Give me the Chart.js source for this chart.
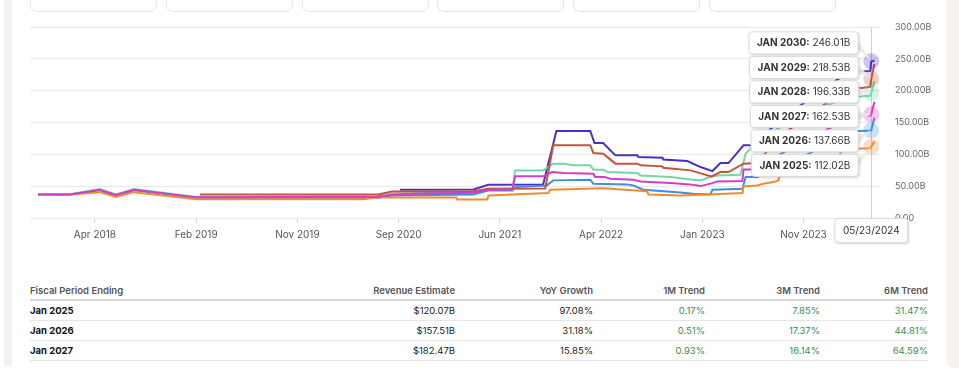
<!DOCTYPE html>
<html>
<head>
<meta charset="utf-8">
<script src="https://cdn.jsdelivr.net/npm/chart.js@4.4.1/dist/chart.umd.min.js"></script>
<style>
  body { margin: 0; width: 959px; height: 380px; overflow: hidden; position: relative; background: #fff; font-family: Inter, "Liberation Sans", sans-serif; }
  .strip-l { position: absolute; left: 4px; top: 0; width: 8px; height: 367px; background: #f4f1ee; }
  .strip-r { position: absolute; left: 947px; top: 0; width: 12px; height: 368px; background: #f4f1ee; border-bottom-left-radius: 6px; }
  .btn { position: absolute; top: -20px; height: 32px; width: 127px; border: 1px solid #e6e6e6; border-radius: 7px; box-sizing: border-box; }
  #wrap { position: absolute; left: 0; top: 0; width: 945px; height: 250px; }
  #est { position: absolute; left: 30px; top: 281px; width: 898px; border-collapse: collapse; table-layout: fixed; font-size: 9.5px; }
  #est th { height: 18px; color: #555; font-weight: 600; text-align: right; padding: 0; border-bottom: 2px solid #d6d6d6; }
  #est td { height: 19px; text-align: right; padding: 0; color: #222; border-bottom: 1px solid #e6e6e6; }
  #est th.l, #est td.l { text-align: left; }
  #est td.l { font-weight: 700; color: #111; }
  #est td.g { color: #3b8c50; }
</style>
</head>
<body>
<div class="strip-l"></div>
<div class="strip-r"></div>
<div class="btn" style="left:30px"></div>
<div class="btn" style="left:166px"></div>
<div class="btn" style="left:302px"></div>
<div class="btn" style="left:437px"></div>
<div class="btn" style="left:573px"></div>
<div class="btn" style="left:709px"></div>
<div id="wrap"><canvas id="revChart" width="945" height="250"></canvas></div>
<table id="est">
  <colgroup><col style="width:200px"><col style="width:225px"><col style="width:138px"><col style="width:112px"><col style="width:115px"><col style="width:108px"></colgroup>
  <thead><tr><th class="l">Fiscal Period Ending</th><th>Revenue Estimate</th><th>YoY Growth</th><th>1M Trend</th><th>3M Trend</th><th>6M Trend</th></tr></thead>
  <tbody id="estBody"></tbody>
</table>
<script>
// revenue estimate history, [date, billions]
const est2025 = [['2017-11-09',37.0],['2018-02-08',37.0],['2018-05-05',40.6],['2018-06-20',33.2],['2018-08-11',40.6],['2019-02-07',29.6],['2020-05-28',29.6],['2020-07-10',32.3],['2021-02-19',32.3],['2021-02-22',29.1],['2021-05-19',29.1],['2021-05-22',35.4],['2021-11-10',39.1],['2021-11-15',44.4],['2022-04-16',46.9],['2022-08-19',42.2],['2022-08-24',37.0],['2022-11-23',35.4],['2023-02-09',37.0],['2023-05-20',39.1],['2023-05-23',49.6],['2023-07-02',51.2],['2023-07-19',53.9],['2023-08-17',56.4],['2023-08-31',59.1],['2023-09-05',70.0],['2023-11-20',74.0],['2023-11-24',86.0],['2024-02-22',93.0],['2024-02-26',106.0],['2024-04-16',109.0],['2024-05-20',109.5],['2024-05-23',112.02],['2024-06-01',120.07]];
const est2026 = [['2017-11-09',37.0],['2018-02-08',37.0],['2018-05-05',43.5],['2018-06-20',35.0],['2018-08-11',43.5],['2019-02-07',32.0],['2020-07-10',32.0],['2020-08-19',35.5],['2021-04-09',37.0],['2021-05-22',43.3],['2021-07-30',43.3],['2021-08-07',48.5],['2021-11-05',51.2],['2021-11-24',59.1],['2022-03-10',60.2],['2022-03-19',53.9],['2022-06-24',52.8],['2022-07-11',51.2],['2022-08-09',44.4],['2022-11-15',40.6],['2022-12-30',38.1],['2023-02-17',37.0],['2023-02-23',44.4],['2023-05-20',46.0],['2023-05-29',64.3],['2023-07-02',64.3],['2023-08-28',82.0],['2023-11-22',100.0],['2024-02-23',126.0],['2024-04-16',136.7],['2024-05-20',136.9],['2024-05-23',137.66],['2024-06-01',157.51]];
const est2027 = [['2017-11-09',37.0],['2018-02-08',37.0],['2018-05-05',44.4],['2018-06-20',36.2],['2018-08-11',44.4],['2019-02-07',32.4],['2020-07-10',33.2],['2020-08-19',36.5],['2020-11-13',38.5],['2021-04-09',39.5],['2021-05-22',44.4],['2021-07-30',45.0],['2021-08-07',65.4],['2021-10-26',65.4],['2021-11-20',72.1],['2021-12-23',70.6],['2022-03-19',69.6],['2022-03-24',64.3],['2022-04-20',64.3],['2022-05-06',61.7],['2022-07-11',60.2],['2022-08-01',57.5],['2022-10-26',54.8],['2022-12-20',52.8],['2023-01-20',50.1],['2023-02-23',54.8],['2023-03-09',57.5],['2023-05-20',58.0],['2023-05-23',76.0],['2023-06-21',76.0],['2023-08-28',98.0],['2023-11-22',122.0],['2024-02-23',150.0],['2024-04-16',160.5],['2024-05-20',161.0],['2024-05-23',162.53],['2024-06-01',182.47]];
const est2028 = [['2017-11-09',37.0],['2018-02-08',37.5],['2018-05-05',45.5],['2018-06-20',37.0],['2018-08-11',45.5],['2019-02-07',33.0],['2020-07-10',34.0],['2020-08-19',38.5],['2021-04-09',40.0],['2021-05-22',46.0],['2021-07-30',46.0],['2021-08-07',74.8],['2021-10-26',74.8],['2021-11-24',85.4],['2021-12-23',85.4],['2022-01-20',82.7],['2022-03-10',82.7],['2022-03-19',75.9],['2022-04-16',75.9],['2022-04-28',72.1],['2022-07-23',70.6],['2022-08-01',66.9],['2022-10-26',64.3],['2022-12-22',60.6],['2023-01-20',59.1],['2023-02-17',64.3],['2023-03-09',66.9],['2023-05-14',68.0],['2023-05-29',101.1],['2023-06-12',109.0],['2023-06-21',116.9],['2023-08-28',140.0],['2023-11-22',165.0],['2024-02-23',185.0],['2024-04-16',191.0],['2024-05-20',192.0],['2024-05-23',196.33],['2024-06-01',215.0]];
const est2029 = [['2019-02-16',37.0],['2020-07-10',37.0],['2020-08-19',41.5],['2021-04-09',42.0],['2021-05-22',46.0],['2021-11-01',46.5],['2021-11-24',114.2],['2022-03-10',114.2],['2022-03-19',102.0],['2022-04-16',101.0],['2022-05-21',85.4],['2022-07-23',85.4],['2022-08-01',82.7],['2022-10-03',81.1],['2022-10-05',79.0],['2022-12-22',74.8],['2023-02-20',65.4],['2023-03-18',72.1],['2023-04-10',72.1],['2023-05-23',85.4],['2023-07-02',86.3],['2023-08-28',125.0],['2023-11-22',160.0],['2024-02-23',195.0],['2024-04-16',203.5],['2024-05-20',206.0],['2024-05-23',218.53],['2024-06-01',242.0]];
const est2030 = [['2020-09-11',44.4],['2021-04-09',44.9],['2021-05-22',52.3],['2021-10-26',52.8],['2021-12-03',136.7],['2022-03-10',136.7],['2022-03-22',117.8],['2022-04-16',117.8],['2022-05-21',98.4],['2022-07-23',98.4],['2022-07-26',95.7],['2022-10-03',94.8],['2022-10-05',91.7],['2022-12-13',89.4],['2023-01-20',80.0],['2023-02-23',73.7],['2023-03-18',86.3],['2023-04-10',86.3],['2023-05-23',114.2],['2023-06-21',114.2],['2023-08-28',150.0],['2023-11-22',185.0],['2024-02-23',220.0],['2024-04-16',229.6],['2024-05-20',231.0],['2024-05-23',246.01],['2024-06-01',247.0]];

const seriesNames = ['JAN 2025', 'JAN 2026', 'JAN 2027', 'JAN 2028', 'JAN 2029', 'JAN 2030'];
const hoverDate = '2024-05-23';
const hoverValues = [112.02, 137.66, 162.53, 196.33, 218.53, 246.01];

const xRange = ['2017-10-17', '2024-06-17'];
const tickDates = ['2018-04-21', '2019-02-05', '2019-11-22', '2020-09-07', '2021-06-24', '2022-04-10', '2023-01-25', '2023-11-11'];
const tickLabels = ['Apr 2018', 'Feb 2019', 'Nov 2019', 'Sep 2020', 'Jun 2021', 'Apr 2022', 'Jan 2023', 'Nov 2023'];

// table
const periods = ['Jan 2025', 'Jan 2026', 'Jan 2027'];
const revenueEst = ['$120.07B', '$157.51B', '$182.47B'];
const yoyGrowth = ['97.08%', '31.18%', '15.85%'];
const trend1M = ['0.17%', '0.51%', '0.93%'];
const trend3M = ['7.85%', '17.37%', '16.14%'];
const trend6M = ['31.47%', '44.81%', '64.59%'];

const colors = ['#f28a30', '#3f8fe0', '#d43dc4', '#74d6a4', '#c2553a', '#4b30c4'];
const FONT = 'Inter, "Liberation Sans", sans-serif';

const toDay = s => Date.UTC(+s.slice(0, 4), +s.slice(5, 7) - 1, +s.slice(8, 10)) / 86400000;
const fmtB = v => v.toFixed(2) + 'B';

function withAlpha(hex, a) {
    const n = parseInt(hex.slice(1), 16);
    return `rgba(${n >> 16},${(n >> 8) & 255},${n & 255},${a})`;
}

const body = document.getElementById('estBody');
periods.forEach((p, i) => {
    const tr = document.createElement('tr');
    tr.innerHTML = `<td class="l">${p}</td><td>${revenueEst[i]}</td><td>${yoyGrowth[i]}</td>` +
        `<td class="g">${trend1M[i]}</td><td class="g">${trend3M[i]}</td><td class="g">${trend6M[i]}</td>`;
    body.appendChild(tr);
});

function roundRect(ctx, x, y, w, h, r) {
    ctx.beginPath();
    ctx.moveTo(x + r, y);
    ctx.arcTo(x + w, y, x + w, y + h, r);
    ctx.arcTo(x + w, y + h, x, y + h, r);
    ctx.arcTo(x, y + h, x, y, r);
    ctx.arcTo(x, y, x + w, y, r);
    ctx.closePath();
}

// crosshair, hover halos and split tooltips at hoverDate
const hoverPlugin = {
    id: 'hoverPlugin',
    beforeDatasetsDraw(chart) {
        const { ctx, chartArea, scales } = chart;
        const hx = Math.round(scales.x.getPixelForValue(toDay(hoverDate))) + 0.5;
        ctx.save();
        ctx.strokeStyle = '#cfcfcf';
        ctx.lineWidth = 1;
        ctx.beginPath();
        ctx.moveTo(hx, chartArea.top);
        ctx.lineTo(hx, chartArea.bottom);
        ctx.stroke();
        ctx.restore();
    },
    afterDatasetsDraw(chart) {
        const { ctx, scales } = chart;
        const hx = scales.x.getPixelForValue(toDay(hoverDate));
        ctx.save();
        hoverValues.forEach((v, i) => {
            ctx.fillStyle = withAlpha(colors[i], 0.28);
            ctx.beginPath();
            ctx.arc(hx, scales.y.getPixelForValue(v), 8, 0, Math.PI * 2);
            ctx.fill();
        });
        ctx.restore();
    },
    afterDraw(chart) {
        const { ctx, chartArea, scales } = chart;
        const hx = scales.x.getPixelForValue(toDay(hoverDate));
        const pts = hoverValues.map((v, i) => ({ i, v, py: scales.y.getPixelForValue(v) }))
            .sort((a, b) => a.py - b.py);
        const mean = pts.reduce((s, p) => s + p.py, 0) / pts.length;
        const gap = 24.5, h = 22, right = hx - 13;
        ctx.save();
        ctx.textBaseline = 'middle';
        pts.forEach((p, k) => {
            const cy = mean + (k - (pts.length - 1) / 2) * gap;
            const label = seriesNames[p.i] + ':';
            ctx.font = `700 10px ${FONT}`;
            const w1 = ctx.measureText(label).width;
            ctx.font = `400 10px ${FONT}`;
            const valTxt = ' ' + fmtB(p.v);
            const w2 = ctx.measureText(valTxt).width;
            const w = w1 + w2 + 16;
            const x = right - w, y = cy - h / 2;
            // callout
            ctx.fillStyle = 'rgba(235,235,235,0.9)';
            ctx.beginPath();
            ctx.moveTo(right - 2, cy - 5);
            ctx.lineTo(hx, p.py);
            ctx.lineTo(right - 2, cy + 5);
            ctx.closePath();
            ctx.fill();
            ctx.shadowColor = 'rgba(0,0,0,0.22)';
            ctx.shadowBlur = 3;
            ctx.shadowOffsetX = 1;
            ctx.shadowOffsetY = 1;
            ctx.fillStyle = '#fff';
            roundRect(ctx, x, y, w, h, 3);
            ctx.fill();
            ctx.shadowColor = 'transparent';
            ctx.strokeStyle = '#d9d9d9';
            ctx.lineWidth = 1;
            ctx.stroke();
            ctx.fillStyle = '#333';
            ctx.font = `700 10px ${FONT}`;
            ctx.fillText(label, x + 8, cy + 0.5);
            ctx.font = `400 10px ${FONT}`;
            ctx.fillText(valTxt, x + 8 + w1, cy + 0.5);
        });
        // date label on the x axis
        const [yy, mm, dd] = hoverDate.split('-');
        const dTxt = `${mm}/${dd}/${yy}`;
        ctx.font = `400 10px ${FONT}`;
        const dw = ctx.measureText(dTxt).width + 16;
        const dx = hx - dw / 2, dy = chartArea.bottom + 0.5;
        ctx.shadowColor = 'rgba(0,0,0,0.22)';
        ctx.shadowBlur = 3;
        ctx.shadowOffsetX = 1;
        ctx.shadowOffsetY = 1;
        ctx.fillStyle = '#fff';
        roundRect(ctx, dx, dy, dw, 24, 3);
        ctx.fill();
        ctx.shadowColor = 'transparent';
        ctx.strokeStyle = '#d9d9d9';
        ctx.stroke();
        ctx.fillStyle = '#333';
        ctx.textAlign = 'center';
        ctx.fillText(dTxt, hx, dy + 12.5);
        ctx.restore();
    }
};

const allSeries = [est2025, est2026, est2027, est2028, est2029, est2030];
const drawOrder = [3, 4, 0, 2, 1, 5];

new Chart(document.getElementById('revChart'), {
    type: 'line',
    data: {
        datasets: allSeries.map((s, i) => ({
            label: seriesNames[i],
            data: s.map(p => ({ x: toDay(p[0]), y: p[1] })),
            borderColor: colors[i],
            borderWidth: 2,
            pointRadius: 0,
            tension: 0,
            fill: false,
            order: drawOrder[i]
        }))
    },
    options: {
        responsive: false,
        animation: false,
        events: [],
        layout: { padding: { left: 30, top: 27, right: 0, bottom: 0 } },
        plugins: { legend: { display: false }, tooltip: { enabled: false } },
        scales: {
            x: {
                type: 'linear',
                min: toDay(xRange[0]),
                max: toDay(xRange[1]),
                afterBuildTicks: scale => { scale.ticks = tickDates.map(d => ({ value: toDay(d) })); },
                afterFit: scale => { scale.height = 32; },
                ticks: {
                    autoSkip: false,
                    maxRotation: 0,
                    padding: 6,
                    color: '#555',
                    font: { family: FONT, size: 10 },
                    callback: (v, i) => tickLabels[i]
                },
                grid: { drawOnChartArea: false, drawTicks: true, tickLength: 5, color: '#d3d3d3' },
                border: { display: false }
            },
            y: {
                position: 'right',
                min: 0,
                max: 300,
                afterFit: scale => { scale.width = 65; },
                ticks: {
                    stepSize: 50,
                    padding: 15,
                    color: '#666',
                    font: { family: FONT, size: 9 },
                    callback: v => v === 0 ? '0.00' : fmtB(v)
                },
                grid: { color: '#e8e8e8', drawTicks: false },
                border: { display: false }
            }
        }
    },
    plugins: [hoverPlugin]
});
</script>
</body>
</html>
